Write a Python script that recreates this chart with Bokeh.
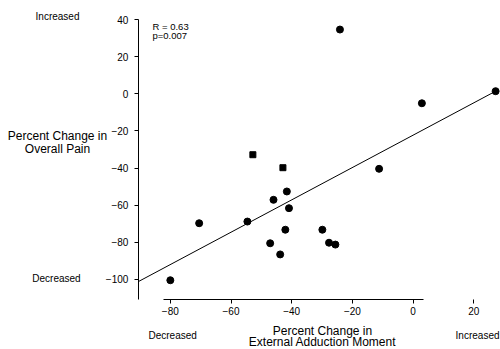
from bokeh.plotting import figure
from bokeh.models import Range1d, FixedTicker, Label, LinearAxis
from bokeh.embed import file_html
from bokeh.resources import INLINE

# ---- data ----
circle_x = [-24.1, 2.9, 27.2, -11.2, -70.5, -54.6, -80.0, -41.6, -46.0,
            -40.9, -42.1, -29.9, -47.1, -27.7, -25.6, -43.8]
circle_y = [34.6, -5.1, 1.4, -40.4, -69.7, -68.8, -100.4, -52.6, -57.1,
            -61.6, -73.2, -73.2, -80.5, -80.2, -81.2, -86.5]
square_x = [-52.8, -42.9]
square_y = [-32.8, -39.8]
fit_x = [-90.5, 27.2]
fit_y = [-101.1, 1.4]
x_ticks = [-80, -60, -40, -20, 0]
x_ticks_far = [20]
y_ticks = [40, 20, 0, -20, -40, -60, -80, -100]
stats_lines = ["R = 0.63", "p=0.007"]
y_title = ["Percent Change in", "Overall Pain"]
x_title = ["Percent Change in", "External Adduction Moment"]

FONT = "Liberation Sans"
W, H = 500, 349
X_AXIS_AT = -110.77   # y value where the x axis sits
Y_AXIS_AT = -90.53    # x value where the y axis sits

p = figure(width=W, height=H, output_backend="svg", toolbar_location=None,
           x_range=Range1d(-135.97, 28.81), y_range=Range1d(-137.7, 50.24),
           min_border_left=0, min_border_right=0, min_border_top=0,
           min_border_bottom=0)
p.outline_line_color = None
p.xgrid.visible = False
p.ygrid.visible = False
p.background_fill_color = "white"
p.border_fill_color = "white"

def style_axis(ax):
    ax.axis_line_color = "black"
    ax.axis_line_width = 1
    ax.major_tick_line_color = "black"
    ax.major_tick_out = 4
    ax.major_tick_in = 0
    ax.minor_tick_line_color = None
    ax.major_label_text_font = FONT
    ax.major_label_text_font_size = "10px"
    ax.major_label_text_color = "black"

yax = p.yaxis[0]
style_axis(yax)
yax.fixed_location = Y_AXIS_AT
yax.ticker = FixedTicker(ticks=y_ticks)
yax.bounds = (X_AXIS_AT, 40)
yax.major_label_standoff = 6

xax = p.xaxis[0]
style_axis(xax)
xax.fixed_location = X_AXIS_AT
xax.ticker = FixedTicker(ticks=x_ticks)
xax.bounds = (-82.3, 3.3)
xax.major_label_standoff = 4

xax2 = LinearAxis(fixed_location=X_AXIS_AT, ticker=FixedTicker(ticks=x_ticks_far),
                  bounds=(19.8, 20.2))
style_axis(xax2)
xax2.axis_line_color = None
xax2.major_label_standoff = 4
p.add_layout(xax2, "below")

# regression line and points
p.line(fit_x, fit_y, line_color="black", line_width=1)
p.scatter(circle_x, circle_y, marker="circle", size=7, color="black")
p.scatter(square_x, square_y, marker="square", size=6, color="black")

def add_text(text, px, py, align="center", size="10px"):
    p.add_layout(Label(x=px, y=H - py, x_units="screen", y_units="screen",
                       text=text, text_font=FONT, text_font_size=size,
                       text_align=align, text_baseline="middle",
                       text_color="black"))

add_text("Increased", 57, 16)
add_text("Decreased", 56, 278)
add_text(y_title[0], 57, 135, size="12px")
add_text(y_title[1], 57, 148, size="12px")
add_text(stats_lines[0], 152, 26, align="left", size="9.5px")
add_text(stats_lines[1], 152, 35, align="left", size="9.5px")
add_text("Decreased", 148, 335, align="left")
add_text("Increased", 499, 335, align="right")
add_text(x_title[0], 322, 330, size="12px")
add_text(x_title[1], 322, 341, size="12px")

open("out.html", "w").write(file_html(p, INLINE))
